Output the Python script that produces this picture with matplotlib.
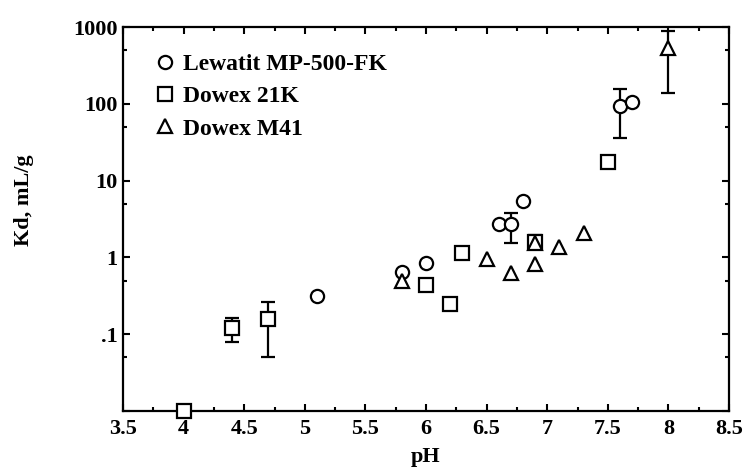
import numpy as np
import matplotlib
matplotlib.use('Agg')
import matplotlib.pyplot as plt
from matplotlib.ticker import FixedLocator, FixedFormatter

# Lewatit MP-500-FK (circles)
lew_ph = [5.1, 5.8, 6.0, 6.6, 6.7, 6.8, 7.6, 7.7]
lew_kd = [0.31, 0.65, 0.84, 2.7, 2.7, 5.4, 93, 107]
# Dowex 21K (squares)
d21_ph = [4.0, 4.4, 4.7, 6.0, 6.2, 6.3, 6.9, 7.5]
d21_kd = [0.01, 0.12, 0.158, 0.44, 0.247, 1.15, 1.59, 17.4]
# Dowex M41 (triangles)
m41_ph = [5.8, 6.5, 6.7, 6.9, 6.9, 7.1, 7.3, 8.0]
m41_kd = [0.50, 0.95, 0.63, 0.82, 1.55, 1.36, 2.08, 537]

# error bars: pH, value, low, high
err_ph = [4.4, 4.7, 6.9, 6.7, 7.6, 8.0]
err_val = [0.12, 0.158, 1.59, 2.7, 93, 537]
err_lo = [0.079, 0.050, 1.59, 1.55, 36, 138]
err_hi = [0.163, 0.26, 1.96, 3.8, 156, 890]

plt.rcParams['font.family'] = 'Liberation Serif'
plt.rcParams['font.weight'] = 'bold'

fig = plt.figure(figsize=(7.47, 4.67), dpi=100)
ax = fig.add_axes([0.1647, 0.12, 0.8113, 0.822])

ev = np.array(err_val)
yerr = [ev - np.array(err_lo), np.array(err_hi) - ev]
ax.errorbar(err_ph, err_val, yerr=yerr, fmt='none', ecolor='black',
            elinewidth=1.6, capsize=5, capthick=1.6, zorder=2)

mk = dict(linestyle='none', markerfacecolor='white', markeredgecolor='black',
          markeredgewidth=1.6, markersize=9.5, clip_on=False, zorder=3)
ax.plot(lew_ph, lew_kd, marker='o', label='Lewatit MP-500-FK', **mk)
ax.plot(d21_ph, d21_kd, marker='s', label='Dowex 21K', **mk)
ax.plot(m41_ph, m41_kd, marker='^', label='Dowex M41', **mk)

ax.set_yscale('log')
ax.set_xlim(3.5, 8.5)
ax.set_ylim(0.01, 1000)

ax.xaxis.set_major_locator(FixedLocator(np.arange(3.5, 8.51, 0.5)))
ax.xaxis.set_major_formatter(FixedFormatter(['3.5', '4', '4.5', '5', '5.5', '6', '6.5', '7', '7.5', '8', '8.5']))
ax.xaxis.set_minor_locator(FixedLocator(np.arange(3.75, 8.5, 0.5)))
ax.yaxis.set_major_locator(FixedLocator([0.01, 0.1, 1, 10, 100, 1000]))
ax.yaxis.set_major_formatter(FixedFormatter(['', '.1', '1', '10', '100', '1000']))
ax.yaxis.set_minor_locator(FixedLocator([0.05, 0.5, 5, 50, 500]))
ax.yaxis.set_minor_formatter(FixedFormatter([]))

ax.tick_params(which='both', direction='in', top=True, right=True,
               labelsize=16, width=1.5)
ax.tick_params(axis='x', pad=6)
ax.tick_params(axis='y', pad=4)
ax.tick_params(which='major', length=5)
ax.tick_params(which='minor', length=3)
for lab in ax.get_xticklabels() + ax.get_yticklabels():
    lab.set_fontweight('bold')
for sp in ax.spines.values():
    sp.set_linewidth(1.6)

ax.set_xlabel('pH', fontsize=16, fontweight='bold')
ax.set_ylabel('Kd, mL/g', fontsize=16, fontweight='bold')
ax.xaxis.set_label_coords(0.5, -0.095)
ax.yaxis.set_label_coords(-0.147, 0.55)

ax.legend(loc='upper left', bbox_to_anchor=(0.035, 0.955), frameon=False,
          prop={'size': 17, 'weight': 'bold'}, handletextpad=0.25,
          labelspacing=0.45, handlelength=1.0, borderaxespad=0)

fig.savefig('out.png', dpi=100)
